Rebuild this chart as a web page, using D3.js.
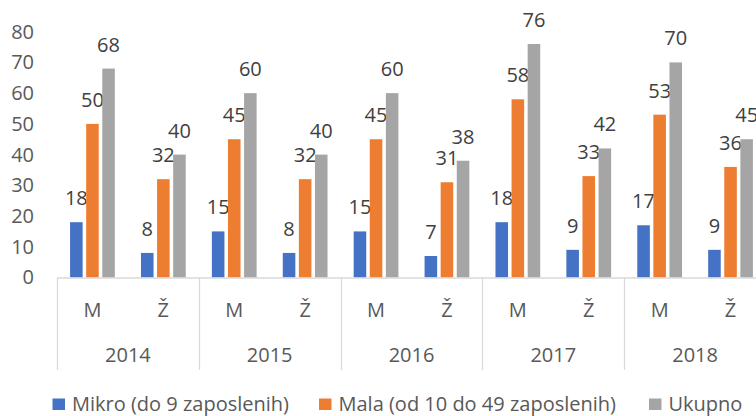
<!DOCTYPE html>
<html>
<head>
<meta charset="utf-8">
<script src="https://cdn.jsdelivr.net/npm/d3@7"></script>
<style>
  body { margin: 0; background: #fff; }
  svg text { font-family: "Open Sans", "Noto Sans", sans-serif; }
</style>
</head>
<body>
<div id="chart"></div>
<script>
// data
const years = ['2014', '2015', '2016', '2017', '2018'];
const sexes = ['M', 'Ž'];
const seriesNames = ['Mikro (do 9 zaposlenih)', 'Mala (od 10 do 49 zaposlenih)', 'Ukupno'];
const seriesColors = ['#4472C4', '#ED7D31', '#A5A5A5'];
// values in order 2014 M, 2014 Ž, 2015 M, ...
const mikro  = [18, 8, 15, 8, 15, 7, 18, 9, 17, 9];
const mala   = [50, 32, 45, 32, 45, 31, 58, 33, 53, 36];
const ukupno = [68, 40, 60, 40, 60, 38, 76, 42, 70, 45];
const yTicks = [0, 10, 20, 30, 40, 50, 60, 70, 80];

const series = [mikro, mala, ukupno];

// sizes
const width = 756, height = 416;
const plot = {left: 57, right: 766, top: 31.7, bottom: 277.5};
const fontSize = '20px';

const svg = d3.select('#chart').append('svg')
    .attr('width', width)
    .attr('height', height);

// scales
const xYear = d3.scaleBand()
    .domain(years)
    .range([plot.left, plot.right])
    .padding(0);

const xSex = d3.scaleBand()
    .domain(sexes)
    .range([0, xYear.bandwidth()])
    .padding(0);

// three bars inside each M / Ž slot
const xSeries = d3.scaleBand()
    .domain(d3.range(series.length))
    .range([xSex.bandwidth() / 2 - 23.5, xSex.bandwidth() / 2 + 23.5])
    .paddingInner(0.22)
    .paddingOuter(0.07);

const y = d3.scaleLinear()
    .domain([0, 80])
    .range([plot.bottom, plot.top]);

// y tick labels (no axis line)
const yAxis = svg.append('g')
    .attr('transform', 'translate(' + plot.left + ',0)')
    .call(d3.axisLeft(y).tickValues(yTicks).tickSize(0).tickPadding(23));
yAxis.select('.domain').remove();
yAxis.selectAll('text')
    .attr('fill', '#595959')
    .style('font-size', fontSize)
    .style('font-family', '"Open Sans", "Noto Sans", sans-serif');

// flatten into cells
const cells = [];
years.forEach(function(yr, i) {
    sexes.forEach(function(s, j) {
        cells.push({year: yr, sex: s, idx: i * 2 + j});
    });
});

const cellX = function(c) { return xYear(c.year) + xSex(c.sex); };

// bars
series.forEach(function(vals, si) {
    const g = svg.append('g').attr('class', 'series');
    g.selectAll('rect')
        .data(cells)
        .enter().append('rect')
        .attr('x', function(c) { return cellX(c) + xSeries(si); })
        .attr('y', function(c) { return y(vals[c.idx]); })
        .attr('width', xSeries.bandwidth())
        .attr('height', function(c) { return y(0) - y(vals[c.idx]); })
        .attr('fill', seriesColors[si]);

    g.selectAll('text')
        .data(cells)
        .enter().append('text')
        .attr('x', function(c) { return cellX(c) + xSeries(si) + xSeries.bandwidth() / 2; })
        .attr('y', function(c) { return y(vals[c.idx]) - 17; })
        .attr('text-anchor', 'middle')
        .attr('fill', '#404040')
        .style('font-size', fontSize)
        .text(function(c) { return vals[c.idx]; });
});

// category axis (two levels)
const axisColor = '#d9d9d9';
const axisG = svg.append('g');

axisG.append('line')
    .attr('x1', plot.left).attr('x2', plot.right)
    .attr('y1', y(0) + 0.5).attr('y2', y(0) + 0.5)
    .attr('stroke', axisColor).attr('stroke-width', 1.3);

const boundaries = years.map(function(yr) { return xYear(yr); }).concat([plot.right]);
axisG.selectAll('line.sep')
    .data(boundaries)
    .enter().append('line')
    .attr('class', 'sep')
    .attr('x1', function(d) { return Math.round(d) + 0.5; })
    .attr('x2', function(d) { return Math.round(d) + 0.5; })
    .attr('y1', y(0))
    .attr('y2', 370)
    .attr('stroke', axisColor)
    .attr('stroke-width', 1.3);

axisG.selectAll('text.sex')
    .data(cells)
    .enter().append('text')
    .attr('class', 'sex')
    .attr('x', function(c) { return cellX(c) + xSex.bandwidth() / 2; })
    .attr('y', 317)
    .attr('text-anchor', 'middle')
    .attr('fill', '#595959')
    .style('font-size', fontSize)
    .text(function(c) { return c.sex; });

axisG.selectAll('text.year')
    .data(years)
    .enter().append('text')
    .attr('class', 'year')
    .attr('x', function(d) { return xYear(d) + xYear.bandwidth() / 2; })
    .attr('y', 362)
    .attr('text-anchor', 'middle')
    .attr('fill', '#595959')
    .style('font-size', fontSize)
    .text(function(d) { return d; });

// legend
const legendX = [52.5, 319, 649];
const legend = svg.append('g')
    .selectAll('g')
    .data(seriesNames)
    .enter().append('g')
    .attr('transform', function(d, i) { return 'translate(' + legendX[i] + ',398.5)'; });

legend.append('rect')
    .attr('width', 12.5)
    .attr('height', 11.5)
    .attr('fill', function(d, i) { return seriesColors[i]; });

legend.append('text')
    .attr('x', 19.5)
    .attr('y', 12)
    .attr('fill', '#595959')
    .style('font-size', fontSize)
    .text(function(d) { return d; });
</script>
</body>
</html>
